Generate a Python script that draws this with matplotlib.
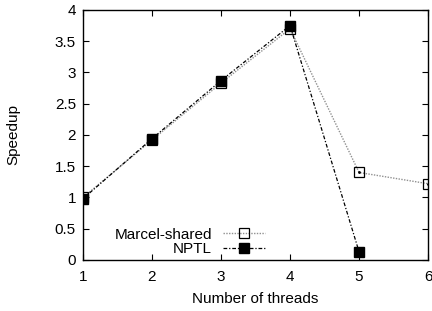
import matplotlib
matplotlib.use('Agg')
import matplotlib.pyplot as plt

plt.rcParams['font.family'] = ['Liberation Sans', 'DejaVu Sans']

threads_marcel = [1, 2, 3, 4, 5, 6]
speedup_marcel = [1.0, 1.92, 2.83, 3.70, 1.40, 1.22]
threads_nptl = [1, 2, 3, 4, 5]
speedup_nptl = [0.98, 1.94, 2.87, 3.75, 0.13]

xticks = [1, 2, 3, 4, 5, 6]
yticks = [0, 0.5, 1, 1.5, 2, 2.5, 3, 3.5, 4]
yticklabels = ['0', '0.5', '1', '1.5', '2', '2.5', '3', '3.5', '4']

fig = plt.figure(figsize=(4.32, 3.11), dpi=100)
ax = fig.add_axes([0.192, 0.164, 0.799, 0.804])

ax.plot(threads_marcel, speedup_marcel, color='#909090', lw=1.0,
        linestyle=(0, (1, 1)), marker='s', markersize=7.5,
        markerfacecolor='none', markeredgecolor='black', markeredgewidth=0.9,
        label='Marcel-shared', zorder=3)
ax.plot(threads_marcel, speedup_marcel, linestyle='none', marker='.',
        markersize=2, color='black', zorder=4)
ax.plot(threads_nptl, speedup_nptl, color='black', lw=0.9,
        linestyle=(0, (3, 1.5, 1, 1.5)), marker='s', markersize=7.5,
        markerfacecolor='black', markeredgecolor='black',
        label='NPTL', zorder=3)

ax.set_xlim(1, 6)
ax.set_ylim(0, 4)
ax.set_xticks(xticks)
ax.set_yticks(yticks)
ax.set_yticklabels(yticklabels)
ax.tick_params(direction='in', top=True, right=True, length=4, width=0.8,
               labelsize=11, pad=5)
ax.tick_params(axis='x', pad=7)
for s in ax.spines.values():
    s.set_linewidth(1.0)

ax.set_xlabel('Number of threads', fontsize=11, labelpad=6)
ax.set_ylabel('Speedup', fontsize=11, labelpad=25)

leg = ax.legend(loc='lower right', bbox_to_anchor=(0.551, -0.016), frameon=False,
                markerfirst=False, fontsize=11, handlelength=2.8,
                handletextpad=0.7, labelspacing=0.05, borderaxespad=0.1)
for t in leg.get_texts():
    t.set_horizontalalignment('right')

fig.savefig('out.png', dpi=100)
